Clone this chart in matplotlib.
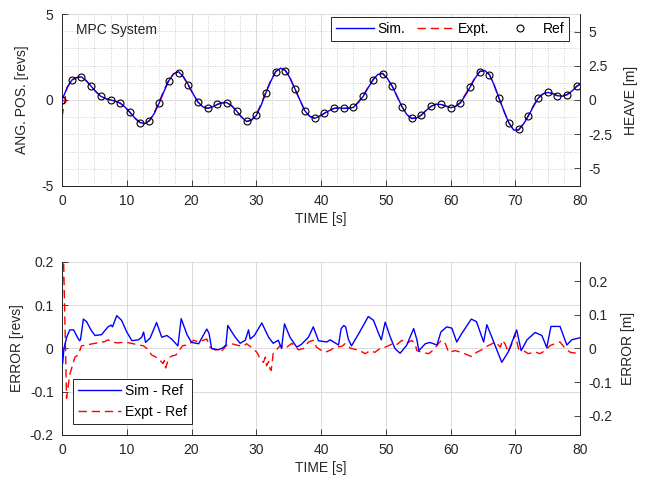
import numpy as np
import matplotlib.pyplot as plt
from matplotlib.ticker import MultipleLocator

plt.rcParams['font.family'] = ['Liberation Sans', 'DejaVu Sans']
plt.rcParams['font.size'] = 10
plt.rcParams['axes.unicode_minus'] = False

# reference trajectory (markers every 1.5 s)
ref_t = np.arange(0, 80, 1.5)
ref_pos = [0.0, 1.15, 1.32, 0.80, 0.21, 0.0, -0.18, -0.72, -1.33, -1.21,
           -0.18, 1.13, 1.58, 0.88, -0.12, -0.49, -0.26, -0.16, -0.66, -1.21,
           -0.90, 0.43, 1.65, 1.71, 0.62, -0.63, -1.05, -0.78, -0.49, -0.49,
           -0.43, 0.21, 1.15, 1.52, 0.80, -0.39, -1.05, -0.88, -0.37, -0.26,
           -0.45, -0.18, 0.74, 1.65, 1.48, 0.09, -1.33, -1.70, -0.94, 0.09,
           0.44, 0.25, 0.31, 0.80]

# sim / expt angular position, sampled every 0.75 s
line_t = np.append(np.arange(0, 79.6, 0.75), 80)
sim_pos = [0.0, 0.68, 1.15, 1.30, 1.35, 1.12, 0.80, 0.48, 0.21, 0.08,
           0.0, -0.07, -0.18, -0.42, -0.72, -1.05, -1.30, -1.38, -1.21, -0.78,
           -0.18, 0.50, 1.13, 1.52, 1.64, 1.35, 0.88, 0.35, -0.12, -0.40,
           -0.49, -0.40, -0.26, -0.16, -0.16, -0.35, -0.66, -1.00, -1.25, -1.18,
           -0.90, -0.30, 0.43, 1.10, 1.65, 1.85, 1.72, 1.25, 0.62, -0.02,
           -0.63, -0.95, -1.07, -0.95, -0.78, -0.62, -0.49, -0.46, -0.49, -0.48,
           -0.43, -0.15, 0.21, 0.70, 1.15, 1.48, 1.55, 1.25, 0.80, 0.20,
           -0.39, -0.85, -1.08, -1.05, -0.88, -0.60, -0.37, -0.25, -0.26, -0.35,
           -0.45, -0.38, -0.18, 0.25, 0.74, 1.25, 1.65, 1.72, 1.48, 0.85,
           0.09, -0.65, -1.33, -1.75, -1.75, -1.40, -0.94, -0.40, 0.09, 0.35,
           0.44, 0.38, 0.25, 0.22, 0.31, 0.52, 0.80, 0.90]
expt_pos = [-1.0, 0.72, 1.17, 1.31, 1.35, 1.11, 0.79, 0.47, 0.21, 0.08,
            0.0, -0.07, -0.19, -0.43, -0.73, -1.06, -1.30, -1.37, -1.18, -0.72,
            -0.10, 0.58, 1.18, 1.54, 1.63, 1.33, 0.86, 0.34, -0.13, -0.40,
            -0.48, -0.39, -0.25, -0.16, -0.17, -0.36, -0.67, -1.01, -1.25, -1.15,
            -0.84, -0.22, 0.50, 1.15, 1.67, 1.85, 1.70, 1.23, 0.60, -0.03,
            -0.64, -0.95, -1.06, -0.94, -0.77, -0.61, -0.49, -0.46, -0.49, -0.47,
            -0.41, -0.11, 0.26, 0.74, 1.18, 1.49, 1.54, 1.23, 0.78, 0.19,
            -0.40, -0.85, -1.07, -1.04, -0.86, -0.58, -0.36, -0.25, -0.26, -0.35,
            -0.44, -0.36, -0.14, 0.31, 0.79, 1.29, 1.67, 1.71, 1.46, 0.83,
            0.07, -0.66, -1.33, -1.74, -1.73, -1.37, -0.90, -0.36, 0.12, 0.36,
            0.44, 0.37, 0.25, 0.22, 0.32, 0.53, 0.81, 0.90]

# tracking errors
sim_err_t = [0, 0.1, 0.3, 0.7, 1.2, 1.8, 2.3, 2.7, 2.85, 3.3, 3.8, 4.5, 5.1,
             6.1, 7.1, 7.6, 7.8, 8.0, 8.45, 9.2, 10.0, 10.8, 11.8, 12.3, 12.6,
             12.9, 13.6, 14.6, 15.4, 16.2, 16.9, 17.9, 18.4, 19.3, 20.0, 21.1,
             22.35, 22.7, 23.1, 24.15, 24.9, 25.3, 25.6, 26.7, 27.5, 28.3, 28.8,
             29.05, 29.7, 30.85, 31.9, 32.6, 33.4, 33.9, 34.35, 35.2, 36.25,
             37.0, 38.05, 38.8, 39.6, 40.9, 41.4, 42.7, 43.1, 43.5, 43.8, 44.2,
             44.7, 45.8, 47.3, 48.1, 48.9, 49.3, 49.9, 50.7, 51.4, 52.2, 53.2,
             54.3, 54.8, 55.1, 56.1, 56.8, 57.9, 58.5, 59.4, 60.2, 60.95, 61.7,
             63.2, 64.0, 65.1, 65.6, 66.4, 67.9, 68.9, 70.2, 70.9, 71.8, 73.05,
             74.1, 74.85, 75.5, 76.9, 77.95, 78.7, 80.0]
sim_err = [0.0, -0.035, 0.0, 0.025, 0.043, 0.043, 0.028, 0.018, 0.02, 0.068,
           0.062, 0.042, 0.03, 0.032, 0.05, 0.054, 0.05, 0.058, 0.076, 0.065,
           0.038, 0.018, 0.02, 0.026, 0.038, 0.014, 0.024, 0.06, 0.026, 0.03,
           0.022, 0.006, 0.069, 0.032, 0.014, 0.011, 0.045, 0.035, 0.0, -0.003,
           0.002, 0.008, 0.053, 0.027, 0.012, 0.019, 0.043, 0.022, 0.03, 0.059,
           0.026, 0.012, 0.019, 0.0, 0.057, 0.026, 0.003, 0.01, 0.026, 0.05,
           0.018, 0.015, 0.02, 0.008, 0.046, 0.053, 0.05, 0.022, 0.006, 0.034,
           0.074, 0.065, 0.034, 0.02, 0.061, 0.026, 0.0, -0.011, 0.007, 0.046,
           0.02, -0.005, 0.011, 0.014, 0.008, 0.038, 0.05, 0.047, 0.015, 0.034,
           0.068, 0.062, 0.015, 0.055, 0.025, -0.032, -0.008, 0.043, -0.005,
           0.02, 0.037, 0.03, 0.002, 0.051, 0.051, 0.008, 0.02, 0.025]
expt_err_t = [0, 0.1, 0.25, 0.7, 1.2, 2.0, 2.5, 3.0, 4.1, 5.1, 6.6, 7.1, 7.9,
              8.7, 9.7, 11.3, 12.6, 13.1, 13.85, 14.9, 15.3, 15.6, 15.8, 16.0,
              16.5, 17.0, 17.6, 18.1, 18.6, 19.6, 20.3, 21.1, 21.8, 22.35, 22.9,
              23.6, 24.7, 25.4, 26.2, 27.2, 28.0, 28.5, 29.3, 30.1, 30.6, 31.1,
              31.4, 31.6, 31.9, 32.1, 32.3, 32.6, 33.7, 34.45, 35.5, 36.5, 37.3,
              38.05, 38.8, 39.3, 40.1, 40.6, 41.4, 42.2, 43.2, 43.7, 44.5, 45.0,
              46.0, 46.8, 47.6, 48.3, 49.1, 49.9, 50.5, 51.2, 51.7, 52.5, 53.2,
              54.0, 54.5, 54.8, 55.6, 56.6, 57.4, 58.1, 58.6, 59.2, 59.7, 60.7,
              61.7, 62.8, 63.3, 64.0, 65.1, 65.6, 66.4, 66.9, 67.7, 68.0, 68.4,
              68.9, 69.7, 69.95, 70.5, 71.25, 72.0, 73.05, 73.8, 74.6, 75.4,
              76.1, 76.9, 77.7, 78.5, 79.5, 80.0]
expt_err = [0.0, 0.22, 0.2, -0.115, -0.06, -0.02, -0.015, 0.006, 0.009, 0.012,
            0.016, 0.02, 0.014, 0.013, 0.015, 0.01, 0.006, 0.0, -0.015, -0.023,
            -0.03, -0.035, -0.028, -0.045, -0.022, -0.017, -0.015, -0.004, 0.006,
            0.009, 0.019, 0.015, 0.019, 0.022, 0.002, -0.003, -0.005, 0.007,
            0.011, 0.007, 0.005, 0.011, 0.002, -0.009, -0.024, -0.032, -0.02,
            -0.04, -0.03, -0.047, -0.051, -0.012, 0.007, 0.0, 0.012, -0.003,
            0.0, 0.015, 0.019, 0.003, -0.005, -0.009, -0.004, 0.003, 0.005,
            0.011, 0.001, -0.001, -0.005, -0.012, -0.005, -0.009, 0.0, 0.003,
            0.007, 0.012, 0.009, 0.019, 0.011, 0.019, 0.011, -0.005, -0.009,
            -0.012, -0.003, 0.011, 0.019, 0.011, -0.009, -0.005, -0.009, -0.016,
            -0.019, -0.009, -0.001, 0.005, 0.011, 0.015, 0.003, 0.019, 0.011,
            -0.009, 0.019, 0.034, -0.001, -0.005, -0.012, -0.008, -0.012, -0.005,
            0.007, 0.011, 0.015, 0.0, -0.009, -0.011, -0.008]

dark = '#262626'


def style_axes(ax, axr):
    for a in (ax, axr):
        a.spines['top'].set_visible(False)
        for s in a.spines.values():
            s.set_color(dark)
            s.set_linewidth(0.7)
        a.tick_params(which='both', direction='in', length=4, width=0.6,
                      colors=dark, labelsize=10, pad=6)
        a.tick_params(which='minor', length=0)
    ax.spines['right'].set_visible(False)
    axr.spines['left'].set_visible(False)
    ax.set_xlim(0, 80)
    ax.xaxis.set_major_locator(MultipleLocator(10))
    ax.set_xlabel('TIME [s]', color=dark, labelpad=3)


fig = plt.figure(figsize=(6.46, 4.83), dpi=100)

# ---- top: angular position ----
ax1 = fig.add_axes([0.096, 0.615, 0.802, 0.356])
ax1r = ax1.twinx()
ax1.plot(line_t, expt_pos, color='r', lw=1.0, dashes=(6, 3.5), zorder=2,
         label='Expt.')
ax1.plot(line_t, sim_pos, color='b', lw=1.0, zorder=3, label='Sim.')
ax1.plot(ref_t, ref_pos, 'o', mfc='none', mec='k', ms=5, mew=0.8,
         zorder=4, label='Ref')
ax1.set_ylim(-5, 5)
ax1.set_yticks([-5, 0, 5])
ax1.xaxis.set_minor_locator(MultipleLocator(2.5))
ax1.yaxis.set_minor_locator(MultipleLocator(1))
ax1.grid(which='major', color='#d4d4d4', lw=0.6)
ax1.grid(which='minor', color='#bdbdbd', lw=0.6, ls=(0, (1, 2)))
ax1.set_axisbelow(True)
ax1.set_ylabel('ANG. POS. [revs]', color=dark, labelpad=9)
ax1r.set_ylim(-6.3, 6.3)
ax1r.set_yticks([-5, -2.5, 0, 2.5, 5])
ax1r.set_yticklabels(['-5', '-2.5', '0', '2.5', '5'])
ax1r.set_ylabel('HEAVE [m]', color=dark, labelpad=8)
style_axes(ax1, ax1r)
ax1.text(0.027, 0.907, 'MPC System', transform=ax1.transAxes, va='center',
         ha='left', color=dark, fontsize=10)
h, l = ax1.get_legend_handles_labels()
order = [1, 0, 2]
leg1 = ax1r.legend([h[i] for i in order], [l[i] for i in order], ncol=3,
                   loc='upper right', bbox_to_anchor=(0.979, 0.983),
                   borderaxespad=0, fancybox=False, framealpha=1,
                   edgecolor=dark, handlelength=2.7, handletextpad=0.3,
                   columnspacing=0.8, borderpad=0.35, fontsize=10)
leg1.get_frame().set_linewidth(0.7)

# ---- bottom: tracking error ----
ax2 = fig.add_axes([0.096, 0.0994, 0.802, 0.3582])
ax2r = ax2.twinx()
ax2.plot(expt_err_t, expt_err, color='r', lw=1.0, dashes=(6, 3.5), zorder=2,
         label='Expt - Ref')
ax2.plot(sim_err_t, sim_err, color='b', lw=1.0, zorder=3, label='Sim - Ref')
ax2.set_ylim(-0.2, 0.2)
ax2.set_yticks([-0.2, -0.1, 0, 0.1, 0.2])
ax2.set_yticklabels(['-0.2', '-0.1', '0', '0.1', '0.2'])
ax2.grid(which='major', color='#d4d4d4', lw=0.6)
ax2.set_axisbelow(True)
ax2.set_ylabel('ERROR [revs]', color=dark, labelpad=4)
ax2r.set_ylim(-0.258, 0.258)
ax2r.set_yticks([-0.2, -0.1, 0, 0.1, 0.2])
ax2r.set_yticklabels(['-0.2', '-0.1', '0', '0.1', '0.2'])
ax2r.set_ylabel('ERROR [m]', color=dark, labelpad=6)
style_axes(ax2, ax2r)
h, l = ax2.get_legend_handles_labels()
leg2 = ax2r.legend([h[1], h[0]], [l[1], l[0]], loc='lower left',
                   bbox_to_anchor=(0.021, 0.064), borderaxespad=0,
                   fancybox=False, framealpha=1, edgecolor=dark,
                   handlelength=3.1, handletextpad=0.3, borderpad=0.35,
                   fontsize=10)
leg2.get_frame().set_linewidth(0.7)

fig.savefig('out.png', dpi=100)
